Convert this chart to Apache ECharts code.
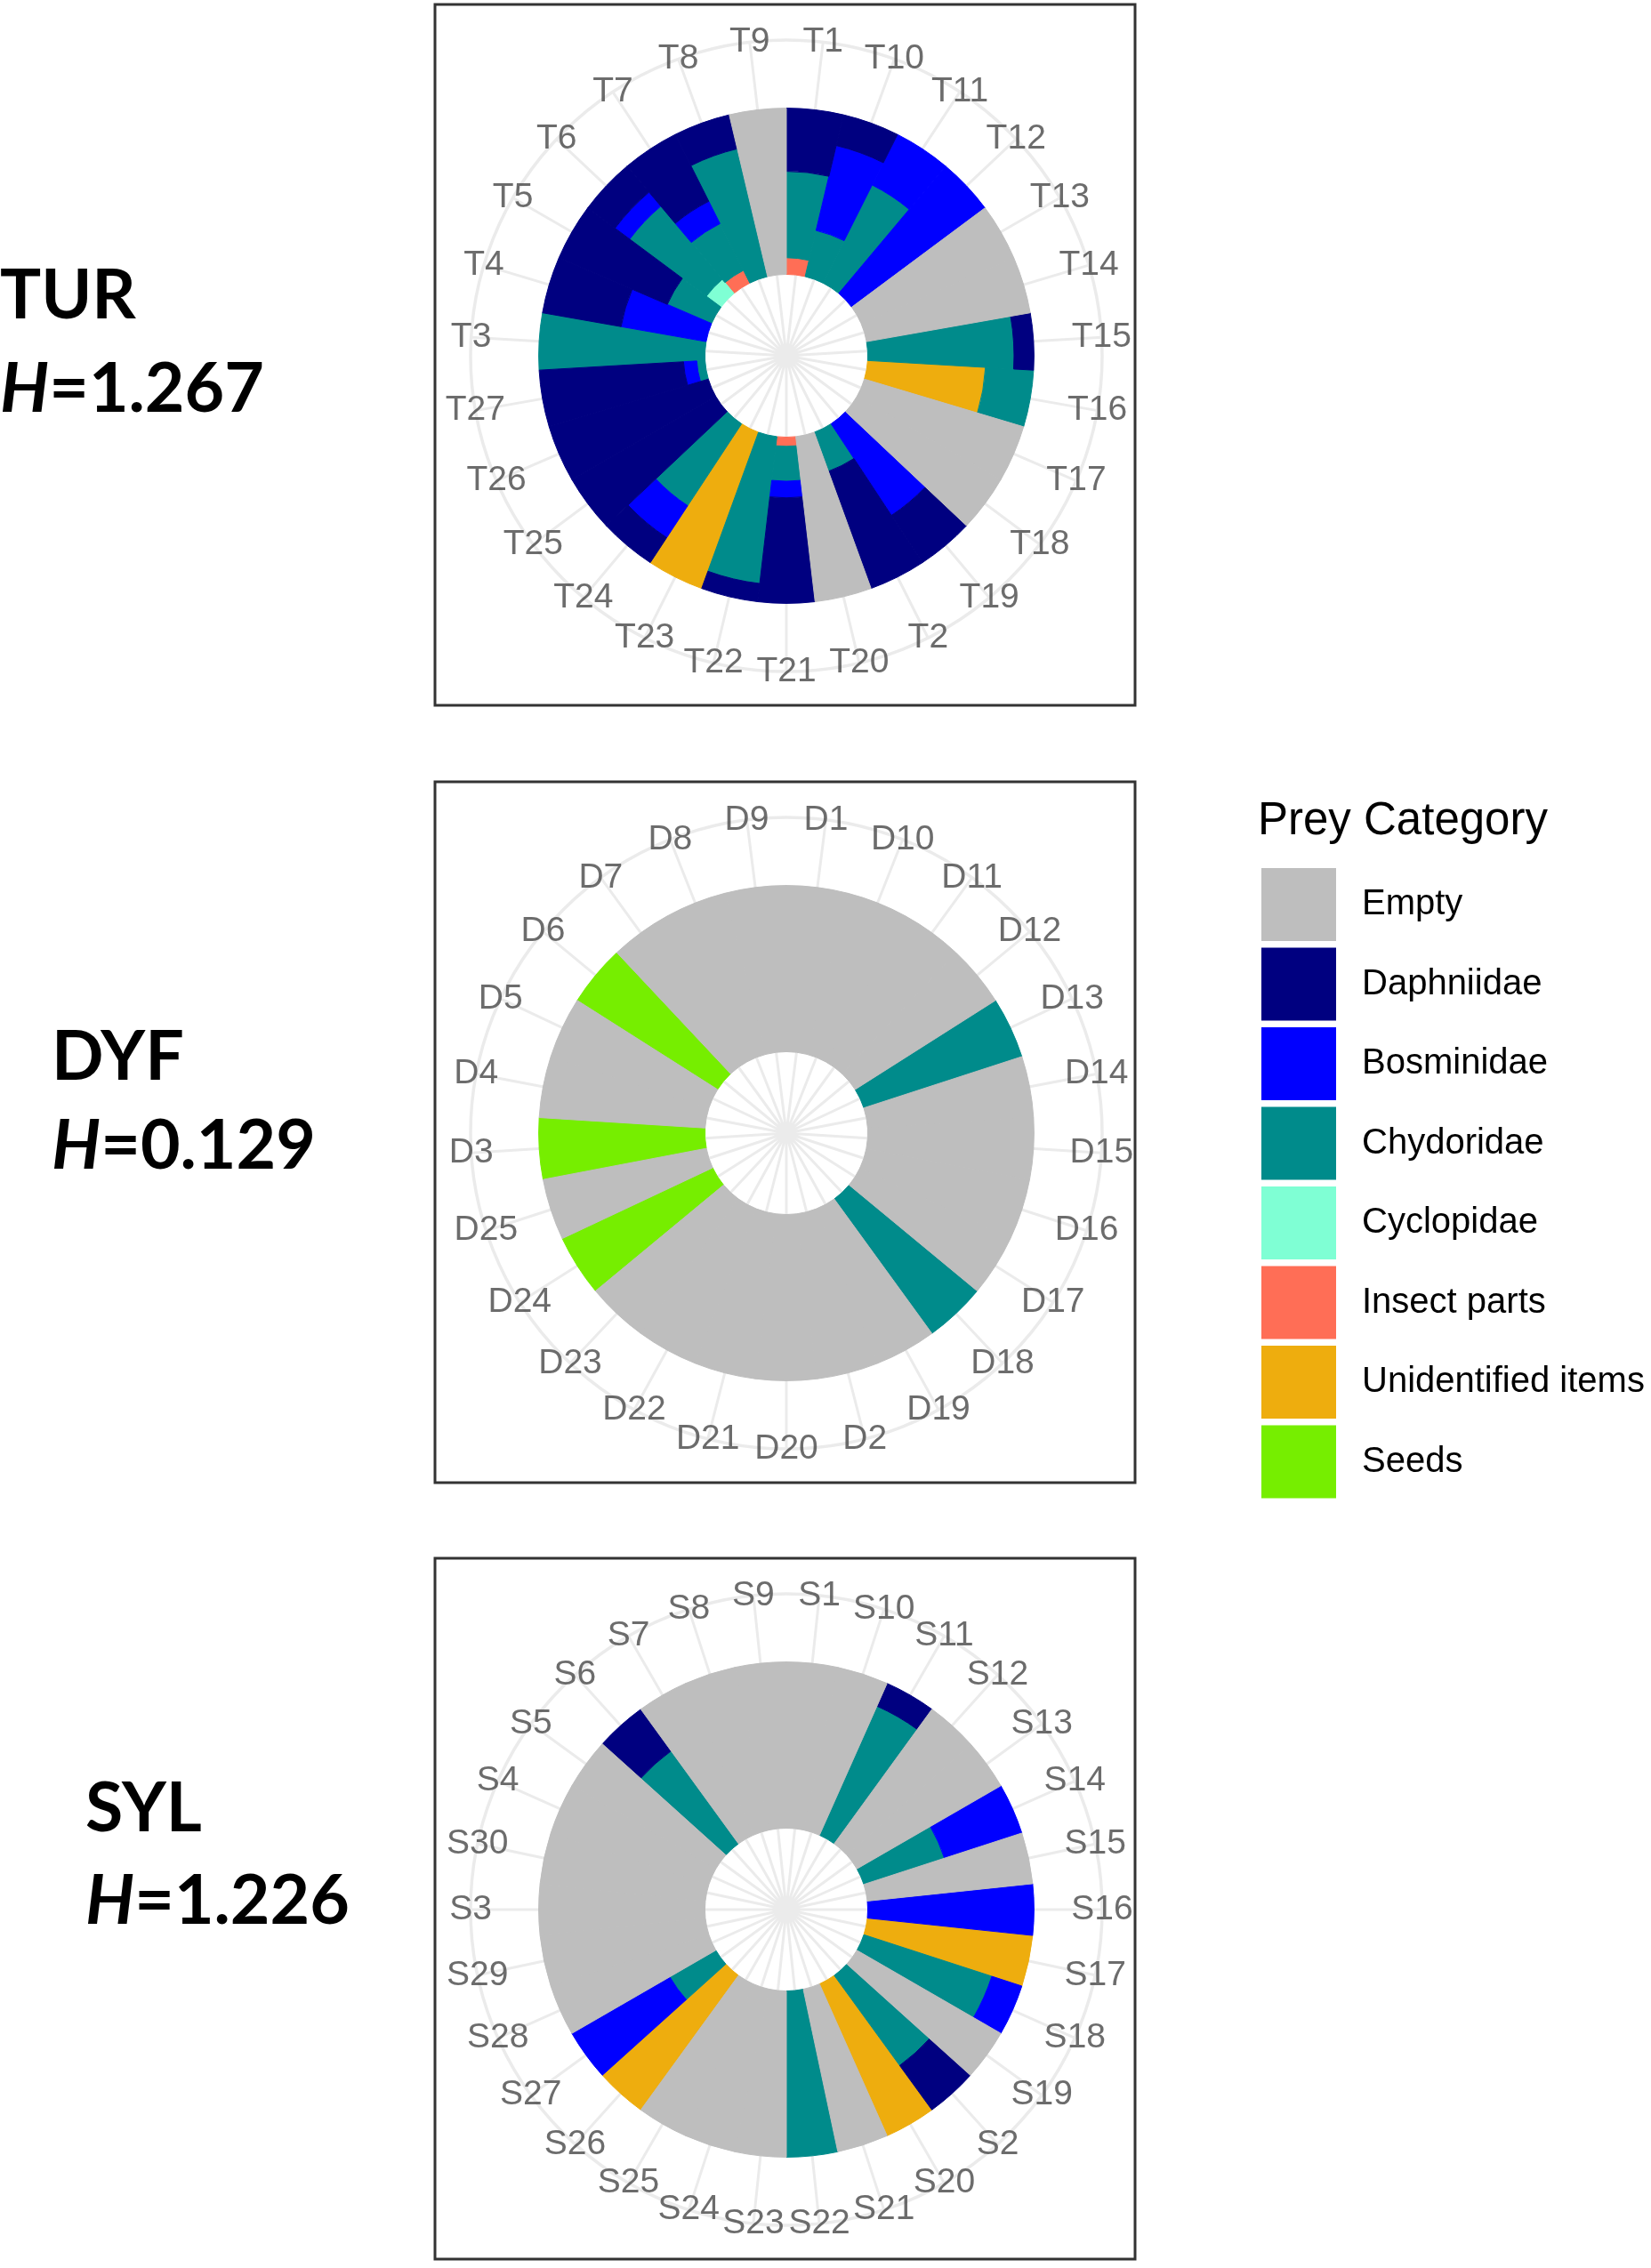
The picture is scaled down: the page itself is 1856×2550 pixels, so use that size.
<!DOCTYPE html>
<html>
<head>
<meta charset="utf-8">
<title>Prey categories by fish</title>
<script src="https://cdn.jsdelivr.net/npm/echarts@6.0.0/dist/echarts.min.js"></script>
<style>
    html, body { margin: 0; padding: 0; background: #ffffff; }
    #chart { width: 1856px; height: 2550px; }
</style>
</head>
<body>
<div id="chart"></div>
<script>
// legend order (outermost stack first, like ggplot)
const prey_names = ['Empty', 'Daphniidae', 'Bosminidae', 'Chydoridae', 'Cyclopidae', 'Insect parts', 'Unidentified items', 'Seeds'];
const prey_colors = ['#BEBEBE', '#000080', '#0000FF', '#008B8B', '#7FFFD4', '#FF6E56', '#EEAD0E', '#76EE00'];

// TUR
const tur_samples = ['T1', 'T10', 'T11', 'T12', 'T13', 'T14', 'T15', 'T16', 'T17', 'T18', 'T19', 'T2', 'T20', 'T21',
    'T22', 'T23', 'T24', 'T25', 'T26', 'T27', 'T3', 'T4', 'T5', 'T6', 'T7', 'T8', 'T9'];
const tur_empty = [0, 0, 0, 0, 1, 1, 0, 0, 1, 1, 0, 0, 1, 0, 0, 0, 0, 0, 0, 0, 0, 0, 0, 0, 0, 0, 1];
const tur_daphniidae = [0.38, 0.19, 0, 0, 0, 0, 0.12, 0, 0, 0, 0.34, 0.75, 0, 0.635, 0.11, 0, 0.18, 1, 1, 0.87, 0, 0.48, 0.71, 0.205, 0.45, 0.21, 0];
const tur_bosminidae = [0, 0.525, 0.34, 1, 0, 0, 0, 0, 0, 0, 0.66, 0, 0, 0.10, 0, 0, 0.23, 0, 0, 0.08, 0, 0.52, 0, 0.11, 0.15, 0, 0];
const tur_chydoridae = [0.52, 0.285, 0.66, 0, 0, 0, 0.88, 0.29, 0, 0, 0, 0.25, 0, 0.21, 0.89, 0, 0.59, 0, 0, 0.05, 1, 0, 0.29, 0.575, 0.315, 0.79, 0];
const tur_cyclopidae = [0, 0, 0, 0, 0, 0, 0, 0, 0, 0, 0, 0, 0, 0, 0, 0, 0, 0, 0, 0, 0, 0, 0, 0.11, 0, 0, 0];
const tur_insect = [0.10, 0, 0, 0, 0, 0, 0, 0, 0, 0, 0, 0, 0, 0.055, 0, 0, 0, 0, 0, 0, 0, 0, 0, 0, 0.085, 0, 0];
const tur_unidentified = [0, 0, 0, 0, 0, 0, 0, 0.71, 0, 0, 0, 0, 0, 0, 0, 1, 0, 0, 0, 0, 0, 0, 0, 0, 0, 0, 0];
const tur_seeds = [0, 0, 0, 0, 0, 0, 0, 0, 0, 0, 0, 0, 0, 0, 0, 0, 0, 0, 0, 0, 0, 0, 0, 0, 0, 0, 0];

// DYF
const dyf_samples = ['D1', 'D10', 'D11', 'D12', 'D13', 'D14', 'D15', 'D16', 'D17', 'D18', 'D19', 'D2', 'D20', 'D21',
    'D22', 'D23', 'D24', 'D25', 'D3', 'D4', 'D5', 'D6', 'D7', 'D8', 'D9'];
const dyf_empty = [1, 1, 1, 1, 0, 1, 1, 1, 1, 0, 1, 1, 1, 1, 1, 1, 0, 1, 0, 1, 1, 0, 1, 1, 1];
const dyf_daphniidae = [0, 0, 0, 0, 0, 0, 0, 0, 0, 0, 0, 0, 0, 0, 0, 0, 0, 0, 0, 0, 0, 0, 0, 0, 0];
const dyf_bosminidae = [0, 0, 0, 0, 0, 0, 0, 0, 0, 0, 0, 0, 0, 0, 0, 0, 0, 0, 0, 0, 0, 0, 0, 0, 0];
const dyf_chydoridae = [0, 0, 0, 0, 1, 0, 0, 0, 0, 1, 0, 0, 0, 0, 0, 0, 0, 0, 0, 0, 0, 0, 0, 0, 0];
const dyf_cyclopidae = [0, 0, 0, 0, 0, 0, 0, 0, 0, 0, 0, 0, 0, 0, 0, 0, 0, 0, 0, 0, 0, 0, 0, 0, 0];
const dyf_insect = [0, 0, 0, 0, 0, 0, 0, 0, 0, 0, 0, 0, 0, 0, 0, 0, 0, 0, 0, 0, 0, 0, 0, 0, 0];
const dyf_unidentified = [0, 0, 0, 0, 0, 0, 0, 0, 0, 0, 0, 0, 0, 0, 0, 0, 0, 0, 0, 0, 0, 0, 0, 0, 0];
const dyf_seeds = [0, 0, 0, 0, 0, 0, 0, 0, 0, 0, 0, 0, 0, 0, 0, 0, 1, 0, 1, 0, 0, 1, 0, 0, 0];

// SYL
const syl_samples = ['S1', 'S10', 'S11', 'S12', 'S13', 'S14', 'S15', 'S16', 'S17', 'S18', 'S19', 'S2', 'S20', 'S21',
    'S22', 'S23', 'S24', 'S25', 'S26', 'S27', 'S28', 'S29', 'S3', 'S30', 'S4', 'S5', 'S6', 'S7', 'S8', 'S9'];
const syl_empty = [1, 1, 0, 1, 1, 0, 1, 0, 0, 0, 1, 0, 0, 1, 0, 1, 1, 1, 0, 0, 1, 1, 1, 1, 1, 1, 0, 1, 1, 1];
const syl_daphniidae = [0, 0, 0.15, 0, 0, 0, 0, 0, 0, 0, 0, 0.33, 0, 0, 0, 0, 0, 0, 0, 0, 0, 0, 0, 0, 0, 0, 0.31, 0, 0, 0];
const syl_bosminidae = [0, 0, 0, 0, 0, 0.49, 0, 1, 0, 0.19, 0, 0, 0, 0, 0, 0, 0, 0, 0, 0.68, 0, 0, 0, 0, 0, 0, 0, 0, 0, 0];
const syl_chydoridae = [0, 0, 0.85, 0, 0, 0.51, 0, 0, 0, 0.81, 0, 0.67, 0, 0, 1, 0, 0, 0, 0, 0.32, 0, 0, 0, 0, 0, 0, 0.69, 0, 0, 0];
const syl_cyclopidae = [0, 0, 0, 0, 0, 0, 0, 0, 0, 0, 0, 0, 0, 0, 0, 0, 0, 0, 0, 0, 0, 0, 0, 0, 0, 0, 0, 0, 0, 0];
const syl_insect = [0, 0, 0, 0, 0, 0, 0, 0, 0, 0, 0, 0, 0, 0, 0, 0, 0, 0, 0, 0, 0, 0, 0, 0, 0, 0, 0, 0, 0, 0];
const syl_unidentified = [0, 0, 0, 0, 0, 0, 0, 0, 1, 0, 0, 0, 1, 0, 0, 0, 0, 0, 1, 0, 0, 0, 0, 0, 0, 0, 0, 0, 0, 0];
const syl_seeds = [0, 0, 0, 0, 0, 0, 0, 0, 0, 0, 0, 0, 0, 0, 0, 0, 0, 0, 0, 0, 0, 0, 0, 0, 0, 0, 0, 0, 0, 0];

const site_names = ['TUR', 'DYF', 'SYL'];
const site_h = ['1.267', '0.129', '1.226'];

// layout
const box_left = 489, box_width = 787, box_height = 788;
const box_tops = [5, 879, 1752];
const polar_cx = 884, polar_dy = 395, polar_r = 355;
const r_min = -0.49, r_max = 1.41;
const site_text_x = [0, 58, 96];
const site_text_y = [[333, 438], [1189, 1289], [2034, 2138]];
const base_font = "'Liberation Sans', Arial, sans-serif";
const side_font = "Lato, 'Open Sans', sans-serif";

const site_data = [
    {samples: tur_samples, values: [tur_empty, tur_daphniidae, tur_bosminidae, tur_chydoridae, tur_cyclopidae, tur_insect, tur_unidentified, tur_seeds]},
    {samples: dyf_samples, values: [dyf_empty, dyf_daphniidae, dyf_bosminidae, dyf_chydoridae, dyf_cyclopidae, dyf_insect, dyf_unidentified, dyf_seeds]},
    {samples: syl_samples, values: [syl_empty, syl_daphniidae, syl_bosminidae, syl_chydoridae, syl_cyclopidae, syl_insect, syl_unidentified, syl_seeds]},
];

let polar = [], angle_axis = [], radius_axis = [], series = [], graphic = [];

site_data.forEach((site, k) => {
    polar.push({center: [polar_cx, box_tops[k] + polar_dy], radius: polar_r});
    radius_axis.push({polarIndex: k, type: 'value', min: r_min, max: r_max, show: false});
    angle_axis.push({
        polarIndex: k, type: 'category', data: site.samples, startAngle: 90, clockwise: true, boundaryGap: true,
        axisLine: {show: true, lineStyle: {color: '#EBEBEB', width: 3.5}},
        axisTick: {show: false},
        axisLabel: {show: false},
        splitLine: {show: false},
    });

    // spokes through each sample's centre, from the middle to the outer ring
    let spokes = [];
    site.samples.forEach((s) => {
        spokes.push([r_min, s], [r_max, s], ['-', s]);
    });
    series.push({
        type: 'line', coordinateSystem: 'polar', polarIndex: k, name: 'grid-' + k,
        data: spokes, symbol: 'none', connectNulls: false, clip: false, silent: true, z: 1,
        lineStyle: {color: '#EBEBEB', width: 3},
    });

    // innermost first: Seeds ... Empty; zero shares are left out so no empty slivers get drawn
    for (let i = prey_names.length - 1; i >= 0; i--) {
        series.push({
            type: 'bar', coordinateSystem: 'polar', polarIndex: k, name: prey_names[i],
            stack: 'site' + k, data: site.values[i].map((v) => (v > 0 ? v : '-')), barCategoryGap: '0%',
            itemStyle: {color: prey_colors[i], borderColor: prey_colors[i], borderWidth: 1},
            emphasis: {disabled: true}, silent: true, z: 2,
        });
    }

    // sample labels sitting on the outer ring
    series.push({
        type: 'scatter', coordinateSystem: 'polar', polarIndex: k, name: 'labels-' + k,
        data: site.samples.map((s) => [r_max, s]), symbol: 'circle', symbolSize: 1, clip: false,
        itemStyle: {color: 'rgba(0,0,0,0)'}, silent: true, z: 5,
        label: {
            show: true, position: 'inside', color: '#474747', fontSize: 39, fontFamily: base_font,
            formatter: (p) => p.value[1],
        },
    });

    graphic.push({
        type: 'rect', shape: {x: box_left, y: box_tops[k], width: box_width, height: box_height},
        style: {fill: 'none', stroke: '#333333', lineWidth: 3}, z: 10,
    });
    graphic.push({
        type: 'text', x: site_text_x[k], y: site_text_y[k][0],
        style: {text: site_names[k], fill: '#000', font: 'bold 77px ' + side_font, verticalAlign: 'middle'},
    });
    graphic.push({
        type: 'text', x: site_text_x[k], y: site_text_y[k][1],
        style: {
            text: '{i|H}{b|=' + site_h[k] + '}', fill: '#000', verticalAlign: 'middle',
            rich: {
                i: {fontStyle: 'italic', fontWeight: 'bold', fontSize: 77, fontFamily: side_font},
                b: {fontWeight: 'bold', fontSize: 77, fontFamily: side_font},
            },
        },
    });
});

graphic.push({
    type: 'text', x: 1414, y: 924,
    style: {text: 'Prey Category', fill: '#000', font: '51px ' + base_font, verticalAlign: 'middle'},
});

let my_chart = echarts.init(document.getElementById('chart'));
my_chart.setOption({
    animation: false,
    backgroundColor: '#ffffff',
    polar: polar,
    angleAxis: angle_axis,
    radiusAxis: radius_axis,
    legend: {
        orient: 'vertical', left: 1418, top: 976, padding: 0,
        itemWidth: 84, itemHeight: 82, itemGap: 7.5, icon: 'rect', selectedMode: false,
        data: prey_names,
        itemStyle: {borderWidth: 0},
        textStyle: {fontSize: 40, color: '#000', fontFamily: base_font, padding: [0, 0, 0, 24]},
    },
    series: series,
    graphic: graphic,
});
</script>
</body>
</html>
